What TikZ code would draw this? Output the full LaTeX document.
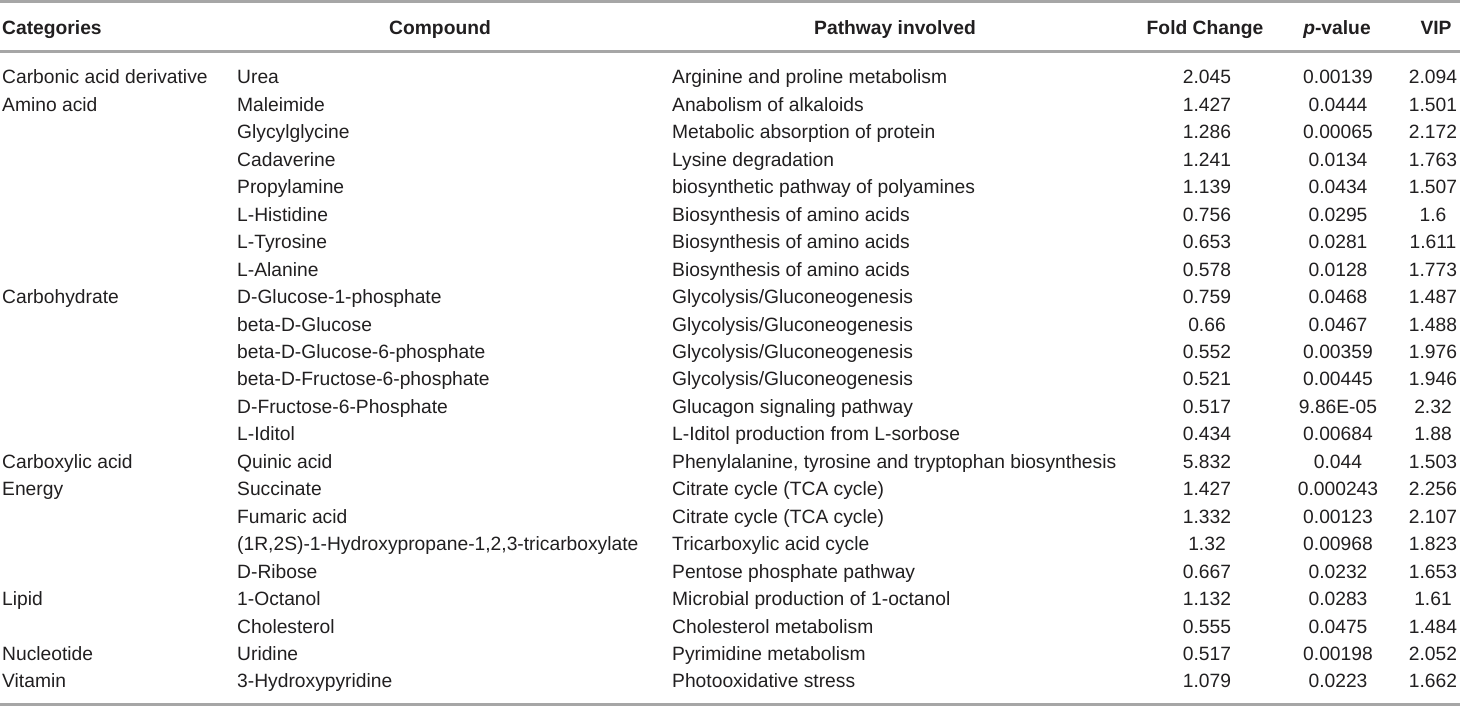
\documentclass[tikz,border=0pt]{standalone}
\usepackage{fontspec}
\setmainfont{Liberation Sans}
\begin{document}
\begin{tikzpicture}[x=1pt,y=-1pt,
  lcell/.style={anchor=base west,inner sep=0pt,text=txtgray},
  ccell/.style={anchor=base,inner sep=0pt,text=txtgray},
  head/.style={font=\bfseries}]
\definecolor{rulegray}{rgb}{0.650000,0.650000,0.650000}%
\definecolor{txtgray}{rgb}{0.130000,0.120000,0.125000}%
\useasboundingbox (0,0) rectangle (1460,706);
{\fontsize{19.25}{23}\selectfont

% Drawing rules
\draw [rulegray, line width=2.5pt] (0,1.3) -- (1460,1.3);%
\draw [rulegray, line width=2.5pt] (0,51.3) -- (1460,51.3);%
\draw [rulegray, line width=2.5pt] (0,704.7) -- (1460,704.7);%

% Header
\node [lcell, head] (hcat) at (2,35) {Categories};%
\node [ccell, head] (hcmp) at (440,35) {Compound};%
\node [ccell, head] (hpw) at (895,35) {Pathway involved};%
\node [ccell, head] (hfc) at (1205,35) {Fold Change};%
\node [ccell, head] (hpv) at (1337,35) {\textit{p}-value};%
\node [ccell, head] (hvip) at (1436,35) {VIP};%

% Row Urea
\node [lcell] (cat0) at (2,84.00) {Carbonic acid derivative};%
\node [lcell] (cmp0) at (237,84.00) {Urea};%
\node [lcell] (pw0) at (672,84.00) {Arginine and proline metabolism};%
\node [ccell] (fc0) at (1207,84.00) {2.045};%
\node [ccell] (pv0) at (1338,84.00) {0.00139};%
\node [ccell] (vip0) at (1433,84.00) {2.094};%

% Row Maleimide
\node [lcell] (cat1) at (2,111.45) {Amino acid};%
\node [lcell] (cmp1) at (237,111.45) {Maleimide};%
\node [lcell] (pw1) at (672,111.45) {Anabolism of alkaloids};%
\node [ccell] (fc1) at (1207,111.45) {1.427};%
\node [ccell] (pv1) at (1338,111.45) {0.0444};%
\node [ccell] (vip1) at (1433,111.45) {1.501};%

% Row Glycylglycine
\node [lcell] (cmp2) at (237,138.90) {Glycylglycine};%
\node [lcell] (pw2) at (672,138.90) {Metabolic absorption of protein};%
\node [ccell] (fc2) at (1207,138.90) {1.286};%
\node [ccell] (pv2) at (1338,138.90) {0.00065};%
\node [ccell] (vip2) at (1433,138.90) {2.172};%

% Row Cadaverine
\node [lcell] (cmp3) at (237,166.35) {Cadaverine};%
\node [lcell] (pw3) at (672,166.35) {Lysine degradation};%
\node [ccell] (fc3) at (1207,166.35) {1.241};%
\node [ccell] (pv3) at (1338,166.35) {0.0134};%
\node [ccell] (vip3) at (1433,166.35) {1.763};%

% Row Propylamine
\node [lcell] (cmp4) at (237,193.80) {Propylamine};%
\node [lcell] (pw4) at (672,193.80) {biosynthetic pathway of polyamines};%
\node [ccell] (fc4) at (1207,193.80) {1.139};%
\node [ccell] (pv4) at (1338,193.80) {0.0434};%
\node [ccell] (vip4) at (1433,193.80) {1.507};%

% Row L-Histidine
\node [lcell] (cmp5) at (237,221.25) {L-Histidine};%
\node [lcell] (pw5) at (672,221.25) {Biosynthesis of amino acids};%
\node [ccell] (fc5) at (1207,221.25) {0.756};%
\node [ccell] (pv5) at (1338,221.25) {0.0295};%
\node [ccell] (vip5) at (1433,221.25) {1.6};%

% Row L-Tyrosine
\node [lcell] (cmp6) at (237,248.70) {L-Tyrosine};%
\node [lcell] (pw6) at (672,248.70) {Biosynthesis of amino acids};%
\node [ccell] (fc6) at (1207,248.70) {0.653};%
\node [ccell] (pv6) at (1338,248.70) {0.0281};%
\node [ccell] (vip6) at (1433,248.70) {1.611};%

% Row L-Alanine
\node [lcell] (cmp7) at (237,276.15) {L-Alanine};%
\node [lcell] (pw7) at (672,276.15) {Biosynthesis of amino acids};%
\node [ccell] (fc7) at (1207,276.15) {0.578};%
\node [ccell] (pv7) at (1338,276.15) {0.0128};%
\node [ccell] (vip7) at (1433,276.15) {1.773};%

% Row D-Glucose-1-phosphate
\node [lcell] (cat8) at (2,303.60) {Carbohydrate};%
\node [lcell] (cmp8) at (237,303.60) {D-Glucose-1-phosphate};%
\node [lcell] (pw8) at (672,303.60) {Glycolysis/Gluconeogenesis};%
\node [ccell] (fc8) at (1207,303.60) {0.759};%
\node [ccell] (pv8) at (1338,303.60) {0.0468};%
\node [ccell] (vip8) at (1433,303.60) {1.487};%

% Row beta-D-Glucose
\node [lcell] (cmp9) at (237,331.05) {beta-D-Glucose};%
\node [lcell] (pw9) at (672,331.05) {Glycolysis/Gluconeogenesis};%
\node [ccell] (fc9) at (1207,331.05) {0.66};%
\node [ccell] (pv9) at (1338,331.05) {0.0467};%
\node [ccell] (vip9) at (1433,331.05) {1.488};%

% Row beta-D-Glucose-6-phosphate
\node [lcell] (cmp10) at (237,358.50) {beta-D-Glucose-6-phosphate};%
\node [lcell] (pw10) at (672,358.50) {Glycolysis/Gluconeogenesis};%
\node [ccell] (fc10) at (1207,358.50) {0.552};%
\node [ccell] (pv10) at (1338,358.50) {0.00359};%
\node [ccell] (vip10) at (1433,358.50) {1.976};%

% Row beta-D-Fructose-6-phosphate
\node [lcell] (cmp11) at (237,385.95) {beta-D-Fructose-6-phosphate};%
\node [lcell] (pw11) at (672,385.95) {Glycolysis/Gluconeogenesis};%
\node [ccell] (fc11) at (1207,385.95) {0.521};%
\node [ccell] (pv11) at (1338,385.95) {0.00445};%
\node [ccell] (vip11) at (1433,385.95) {1.946};%

% Row D-Fructose-6-Phosphate
\node [lcell] (cmp12) at (237,413.40) {D-Fructose-6-Phosphate};%
\node [lcell] (pw12) at (672,413.40) {Glucagon signaling pathway};%
\node [ccell] (fc12) at (1207,413.40) {0.517};%
\node [ccell] (pv12) at (1338,413.40) {9.86E-05};%
\node [ccell] (vip12) at (1433,413.40) {2.32};%

% Row L-Iditol
\node [lcell] (cmp13) at (237,440.85) {L-Iditol};%
\node [lcell] (pw13) at (672,440.85) {L-Iditol production from L-sorbose};%
\node [ccell] (fc13) at (1207,440.85) {0.434};%
\node [ccell] (pv13) at (1338,440.85) {0.00684};%
\node [ccell] (vip13) at (1433,440.85) {1.88};%

% Row Quinic acid
\node [lcell] (cat14) at (2,468.30) {Carboxylic acid};%
\node [lcell] (cmp14) at (237,468.30) {Quinic acid};%
\node [lcell] (pw14) at (672,468.30) {Phenylalanine, tyrosine and tryptophan biosynthesis};%
\node [ccell] (fc14) at (1207,468.30) {5.832};%
\node [ccell] (pv14) at (1338,468.30) {0.044};%
\node [ccell] (vip14) at (1433,468.30) {1.503};%

% Row Succinate
\node [lcell] (cat15) at (2,495.75) {Energy};%
\node [lcell] (cmp15) at (237,495.75) {Succinate};%
\node [lcell] (pw15) at (672,495.75) {Citrate cycle (TCA cycle)};%
\node [ccell] (fc15) at (1207,495.75) {1.427};%
\node [ccell] (pv15) at (1338,495.75) {0.000243};%
\node [ccell] (vip15) at (1433,495.75) {2.256};%

% Row Fumaric acid
\node [lcell] (cmp16) at (237,523.20) {Fumaric acid};%
\node [lcell] (pw16) at (672,523.20) {Citrate cycle (TCA cycle)};%
\node [ccell] (fc16) at (1207,523.20) {1.332};%
\node [ccell] (pv16) at (1338,523.20) {0.00123};%
\node [ccell] (vip16) at (1433,523.20) {2.107};%

% Row tricarboxylate
\node [lcell] (cmp17) at (237,550.65) {(1R,2S)-1-Hydroxypropane-1,2,3-tricarboxylate};%
\node [lcell] (pw17) at (672,550.65) {Tricarboxylic acid cycle};%
\node [ccell] (fc17) at (1207,550.65) {1.32};%
\node [ccell] (pv17) at (1338,550.65) {0.00968};%
\node [ccell] (vip17) at (1433,550.65) {1.823};%

% Row D-Ribose
\node [lcell] (cmp18) at (237,578.10) {D-Ribose};%
\node [lcell] (pw18) at (672,578.10) {Pentose phosphate pathway};%
\node [ccell] (fc18) at (1207,578.10) {0.667};%
\node [ccell] (pv18) at (1338,578.10) {0.0232};%
\node [ccell] (vip18) at (1433,578.10) {1.653};%

% Row 1-Octanol
\node [lcell] (cat19) at (2,605.55) {Lipid};%
\node [lcell] (cmp19) at (237,605.55) {1-Octanol};%
\node [lcell] (pw19) at (672,605.55) {Microbial production of 1-octanol};%
\node [ccell] (fc19) at (1207,605.55) {1.132};%
\node [ccell] (pv19) at (1338,605.55) {0.0283};%
\node [ccell] (vip19) at (1433,605.55) {1.61};%

% Row Cholesterol
\node [lcell] (cmp20) at (237,633.00) {Cholesterol};%
\node [lcell] (pw20) at (672,633.00) {Cholesterol metabolism};%
\node [ccell] (fc20) at (1207,633.00) {0.555};%
\node [ccell] (pv20) at (1338,633.00) {0.0475};%
\node [ccell] (vip20) at (1433,633.00) {1.484};%

% Row Uridine
\node [lcell] (cat21) at (2,660.45) {Nucleotide};%
\node [lcell] (cmp21) at (237,660.45) {Uridine};%
\node [lcell] (pw21) at (672,660.45) {Pyrimidine metabolism};%
\node [ccell] (fc21) at (1207,660.45) {0.517};%
\node [ccell] (pv21) at (1338,660.45) {0.00198};%
\node [ccell] (vip21) at (1433,660.45) {2.052};%

% Row 3-Hydroxypyridine
\node [lcell] (cat22) at (2,687.90) {Vitamin};%
\node [lcell] (cmp22) at (237,687.90) {3-Hydroxypyridine};%
\node [lcell] (pw22) at (672,687.90) {Photooxidative stress};%
\node [ccell] (fc22) at (1207,687.90) {1.079};%
\node [ccell] (pv22) at (1338,687.90) {0.0223};%
\node [ccell] (vip22) at (1433,687.90) {1.662};%
}
\end{tikzpicture}
\end{document}
